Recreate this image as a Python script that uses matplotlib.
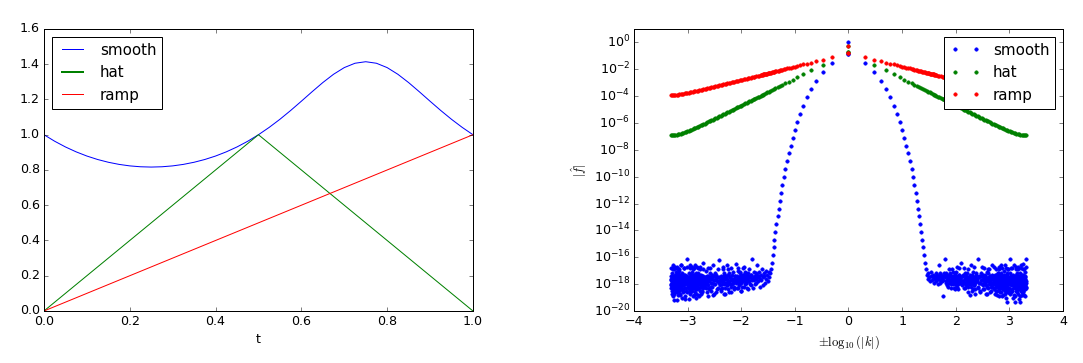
#!/usr/bin/env python3
"""
Test functions on [0, 1] and the magnitude of their Fourier coefficients.

Left: smooth / hat / ramp signals.
Right: |f_hat| against +-log10(|k|) on a log axis.
"""

import numpy as np
import matplotlib
matplotlib.use('Agg')
import matplotlib.pyplot as plt
from matplotlib.ticker import NullLocator

# ---------------------------------------------------------------------------
# Left panel data
# ---------------------------------------------------------------------------
t = np.linspace(0.0, 1.0, 41)
smooth = [1.0, 0.9630, 0.9307, 0.9028, 0.8791, 0.8595, 0.8438, 0.8317, 0.8232, 0.8182,
          0.8165, 0.8182, 0.8232, 0.8317, 0.8438, 0.8595, 0.8791, 0.9028, 0.9307, 0.9630,
          1.0, 1.0416, 1.0875, 1.1374, 1.1901, 1.2438, 1.2959, 1.3429, 1.3808, 1.4055,
          1.4142, 1.4055, 1.3808, 1.3429, 1.2959, 1.2438, 1.1901, 1.1374, 1.0875, 1.0416,
          1.0]
hat_t = [0.0, 0.5, 1.0]
hat = [0.0, 1.0, 0.0]
ramp_t = [0.0, 1.0]
ramp = [0.0, 1.0]

# ---------------------------------------------------------------------------
# Right panel data: log10 |f_hat| per mode k
# ---------------------------------------------------------------------------
smooth_k0 = 1.055
hat_k0 = 0.5
ramp_k0 = 0.5

# smooth: exponential decay for k = 1..28, then round-off noise
k_decay = np.arange(1, 29)
smooth_decay_log10 = [-0.85, -1.55, -2.23, -2.86, -3.48, -4.10, -4.70, -5.30, -5.90, -6.49,
                      -7.09, -7.68, -8.27, -8.86, -9.44, -10.03, -10.61, -11.20, -11.78,
                      -12.37, -12.95, -13.53, -14.11, -14.69, -15.27, -15.85, -16.40, -16.90]

# sampled mode numbers in the noise floor (two interleaved sets)
k_noise = np.r_[29:61, 62:121:2, 124:241:4, 248:481:8, 496:961:8, 976:2049:16]
k_noise2 = np.r_[63:121:2, 126:241:4, 252:481:8, 500:961:8, 984:2049:16]

smooth_noise_pos_log10 = [
    -17.3, -17.6, -17.2, -17.5, -17.8, -17.4, -17.1, -17.7, -17.5, -17.3, -17.9, -17.4, -17.6, -17.2, -17.8,
    -17.5, -17.3, -18.0, -17.6, -16.6, -17.4, -17.7, -17.2, -17.9, -17.5, -17.3, -17.8, -17.6, -18.9, -17.4,
    -17.7, -17.2,
    -16.1, -17.5, -17.8, -17.3, -18.1, -17.6, -17.4, -17.9, -17.2, -18.3, -17.7, -17.5, -16.9, -17.8, -18.0,
    -17.4, -17.6, -18.4, -17.3, -17.7, -17.1, -18.2, -17.5, -17.9, -17.6, -18.0, -17.3, -16.8, -17.8, -17.5,
    -16.4, -17.7, -18.0, -17.4, -17.9, -18.3, -17.6, -17.2, -18.1, -17.8, -17.5, -16.9, -18.2, -17.6, -17.9,
    -18.8, -17.4, -17.7, -18.0, -17.3, -18.5, -17.6, -17.8, -16.7, -18.1, -17.5, -17.9, -18.4, -17.2, -17.7,
    -17.8, -16.1, -18.2, -17.5, -17.9, -18.6, -17.4, -17.7, -18.0, -17.3, -18.4, -17.6, -16.8, -17.9, -18.1,
    -17.5, -18.7, -17.7, -17.2, -18.3, -17.8, -17.6, -16.9, -18.0, -17.4, -18.5, -17.9, -17.6, -18.2, -17.3,
    -17.9, -17.4, -18.3, -17.7, -16.7, -18.0, -17.6, -18.5, -17.8, -17.3, -18.2, -17.5, -18.8, -17.9, -17.2,
    -18.1, -17.6, -16.9, -18.4, -17.7, -17.5, -18.0, -17.8, -18.6, -17.3, -17.9, -16.6, -18.2, -17.6, -18.9,
    -17.4, -17.8, -18.1, -17.5, -18.4, -17.7, -17.0, -18.3, -17.9, -17.6, -18.7, -17.4, -18.0, -17.8, -16.8,
    -18.2, -17.5, -17.9, -18.5, -19.3, -17.7, -18.1, -17.3, -17.8, -18.6, -17.6, -16.9, -18.0, -17.5,
    -17.8, -18.3, -17.5, -16.1, -17.9, -18.6, -17.4, -18.0, -17.7, -18.4, -16.8, -17.6, -18.1, -17.3, -18.8,
    -17.9, -17.5, -18.2, -19.3, -17.7, -18.0, -16.7, -17.6, -18.5, -17.8, -17.2, -18.3, -17.9, -18.7, -17.5,
    -16.9, -18.1, -17.7, -18.4, -17.6, -18.0, -17.4, -18.9, -19.3, -17.8, -18.2, -17.5, -16.6, -18.0, -17.7,
    -18.6, -17.9, -17.3, -18.3, -17.6, -18.1, -16.9, -17.8, -18.5, -17.4, -18.0, -17.7, -18.8, -17.5, -18.2,
    -17.9, -17.1, -18.4, -17.6, -18.0, -17.8, -18.3, -16.1,
]
smooth_noise2_pos_log10 = [
    -17.4, -17.9, -17.2, -17.7, -18.2, -17.5, -16.9, -17.8, -17.3, -17.6, -18.0, -17.4, -17.7, -17.1, -18.3,
    -17.6, -17.5, -17.9, -17.2, -18.1, -17.4, -16.7, -17.8, -17.6, -18.4, -17.3, -17.7, -17.5, -17.9,
    -17.5, -18.1, -17.3, -17.8, -16.8, -17.6, -18.3, -17.4, -17.9, -17.2, -18.6, -17.7, -17.5, -18.0, -17.3,
    -17.8, -16.6, -18.2, -17.6, -17.4, -18.4, -17.9, -17.1, -17.7, -18.1, -17.5, -18.7, -17.3, -17.8,
    -17.6, -18.3, -17.4, -17.9, -18.5, -17.2, -17.7, -16.7, -18.1, -17.5, -17.8, -18.4, -17.3, -17.9, -18.7,
    -17.6, -17.1, -18.2, -17.7, -16.9, -17.5, -18.0, -17.8, -18.6, -17.4, -17.9, -18.2, -16.6, -17.6,
    -18.0, -17.5, -17.8, -18.4, -17.3, -18.7, -17.6, -16.9, -18.1, -17.7, -17.4, -18.5, -17.9, -17.2, -18.2,
    -17.6, -18.9, -17.8, -17.4, -16.7, -18.0, -17.7, -18.3, -17.5, -17.9, -18.6, -17.2, -17.8, -18.1, -16.8,
    -17.6, -18.4, -17.4, -17.9, -18.8, -17.7, -17.3, -18.2, -17.6, -18.0, -16.6, -17.8, -18.5, -17.5, -17.9,
    -18.3, -17.4, -17.7, -19.0, -18.1, -17.6, -17.2, -18.4, -17.8, -16.9, -18.0, -17.5, -18.6,
    -17.6, -18.4, -17.9, -17.2, -18.7, -17.5, -16.8, -18.1, -17.8, -18.5, -17.4, -17.9, -19.0, -17.6, -18.2,
    -16.6, -17.7, -18.3, -17.5, -18.9, -17.8, -17.3, -18.0, -16.9, -17.6, -18.6, -17.9, -18.2, -17.4, -17.7,
    -18.4, -16.7, -17.8, -18.1, -19.1, -17.5, -17.9, -18.3, -17.2, -18.0, -17.7, -16.8, -18.5, -17.6, -17.9,
    -18.8, -17.4, -18.2, -17.7, -16.5, -18.0, -17.6, -18.6, -17.3, -17.9, -18.3, -17.8, -16.9, -18.4, -17.5,
    -18.1, -17.7, -18.9, -17.4, -18.2, -16.7, -17.9,
]

smooth_noise_neg_log10 = [
    -17.2, -17.5, -17.1, -17.8, -17.3, -17.6, -17.0, -17.9, -17.4, -17.2, -18.1, -17.5, -16.9, -17.7, -17.3,
    -17.6, -18.2, -17.4, -17.1, -17.8, -17.5, -16.6, -17.3, -17.9, -17.6, -17.2, -18.0, -17.4, -17.7, -17.1,
    -17.5, -18.3,
    -16.1, -17.6, -17.3, -18.0, -17.5, -17.8, -17.2, -18.4, -17.6, -17.4, -17.9, -17.1, -17.7, -18.2, -17.5,
    -17.3, -16.8, -17.8, -17.6, -18.5, -17.4, -17.9, -17.2, -17.7, -18.1, -17.5, -17.0, -17.8, -18.3, -17.6,
    -16.5, -17.8, -17.4, -18.2, -17.6, -17.9, -17.3, -18.6, -17.7, -17.5, -18.0, -17.2, -17.8, -18.4, -16.9,
    -17.6, -18.1, -17.4, -17.9, -18.7, -17.5, -17.3, -18.0, -17.7, -16.7, -18.3, -17.6, -17.8, -17.4, -18.5,
    -17.7, -16.2, -17.9, -18.3, -17.5, -17.8, -18.6, -17.4, -17.2, -18.0, -17.7, -18.8, -17.6, -17.3, -18.2,
    -17.9, -16.8, -17.5, -18.4, -17.7, -18.1, -17.4, -18.9, -17.8, -17.6, -17.0, -18.3, -17.5, -18.0, -17.7,
    -17.6, -18.1, -16.4, -17.9, -18.5, -17.4, -17.8, -18.2, -17.3, -18.7, -17.7, -17.5, -18.0, -16.9, -18.3,
    -17.6, -17.9, -18.8, -17.2, -17.8, -18.4, -17.5, -16.7, -18.1, -17.7, -19.0, -17.4, -18.2, -17.9, -17.6,
    -18.6, -17.3, -17.8, -18.0, -16.8, -17.5, -18.3, -17.7, -18.9, -17.4, -17.9, -18.1, -17.6, -17.1, -18.5,
    -17.8, -17.3, -18.2, -17.7, -16.6, -18.0, -17.5, -18.7, -17.9, -17.2, -18.4, -17.6, -17.8, -18.1,
    -17.7, -18.2, -17.4, -18.0, -16.1, -17.6, -18.5, -17.9, -17.3, -19.1, -17.8, -18.3, -17.5, -16.8, -18.0,
    -17.7, -18.6, -17.2, -17.9, -18.4, -17.6, -16.6, -18.1, -17.8, -18.8, -17.4, -17.9, -18.3, -17.0, -17.7,
    -18.5, -17.5, -18.0, -16.9, -17.8, -18.2, -19.2, -17.6, -17.3, -18.6, -17.9, -17.1, -18.1, -17.7, -18.4,
    -16.7, -17.5, -18.0, -17.8, -18.7, -17.4, -17.9, -18.2, -17.6, -16.9, -18.9, -17.7, -18.3, -17.5, -18.0,
    -17.2, -18.5, -17.8, -16.8, -17.6, -18.1, -17.4, -18.3,
]
smooth_noise2_neg_log10 = [
    -17.7, -17.3, -18.1, -17.5, -16.9, -17.8, -17.4, -18.3, -17.6, -17.2, -17.9, -18.0, -17.5, -16.7, -17.8,
    -17.3, -18.2, -17.6, -17.4, -17.9, -18.5, -17.1, -17.7, -18.0, -17.5, -16.8, -17.8, -18.3, -17.4,
    -17.9, -17.4, -18.4, -17.6, -17.1, -18.0, -17.7, -16.8, -18.2, -17.5, -17.9, -18.6, -17.3, -17.8, -16.6,
    -18.1, -17.6, -17.4, -18.3, -17.9, -17.2, -18.7, -17.6, -17.8, -16.9, -18.0, -17.5, -18.4, -17.7,
    -18.1, -17.5, -17.8, -16.9, -18.4, -17.6, -17.3, -18.0, -18.7, -17.7, -17.4, -16.6, -18.2, -17.9, -17.5,
    -18.5, -17.6, -17.2, -17.8, -18.3, -16.8, -17.7, -18.0, -17.4, -18.6, -17.9, -17.5, -18.2, -17.6,
    -17.8, -18.3, -17.4, -16.9, -18.0, -17.6, -18.6, -17.5, -17.9, -18.2, -16.7, -17.7, -18.5, -17.3, -17.8,
    -18.9, -17.6, -18.1, -17.4, -16.8, -17.9, -18.3, -17.6, -17.2, -18.7, -17.8, -18.0, -16.6, -17.5, -18.4,
    -17.7, -17.3, -18.2, -17.9, -18.8, -17.6, -16.9, -18.1, -17.5, -17.8, -18.5, -17.4, -17.9, -16.7, -18.2,
    -17.6, -18.0, -17.3, -18.6, -17.8, -17.5, -18.3, -16.8, -17.7, -18.1, -19.1, -17.6, -17.9,
    -18.2, -17.6, -17.9, -18.6, -16.7, -17.8, -18.3, -17.5, -18.9, -17.7, -17.3, -18.1, -16.8, -17.9, -18.5,
    -17.6, -18.0, -17.4, -19.0, -17.8, -16.6, -18.2, -17.7, -18.4, -17.5, -17.9, -18.7, -17.3, -16.9, -18.0,
    -17.6, -18.3, -17.8, -17.2, -18.8, -17.7, -16.7, -18.1, -17.5, -18.5, -17.9, -17.4, -18.2, -16.8, -17.7,
    -18.6, -17.6, -18.0, -17.3, -19.2, -17.8, -16.9, -18.4, -17.5, -17.9, -18.1, -17.7, -16.6, -18.3, -17.6,
    -18.7, -17.4, -17.9, -18.2, -16.8, -17.7, -18.0,
]

# ramp (all k) and hat (odd k only)
k_high = [11, 13, 15, 17, 19, 21, 23, 25, 27, 29, 31, 33, 35, 37, 39, 41, 43, 47, 49, 53,
          57, 59, 63, 67, 71, 75, 79, 85, 89, 95, 101, 107, 113, 119, 127, 135, 143, 151, 161, 171,
          181, 191, 203, 215, 227, 241, 255, 271, 287, 303, 321, 341, 361, 381, 405, 431, 455, 481,
          511, 541, 573, 605, 643, 681, 721, 761, 805, 851, 903, 955, 1011, 1071, 1135, 1201, 1275,
          1351, 1431, 1515, 1605, 1701, 1801, 1909, 1979, 2047]
k_ramp_even = [12, 14, 16, 18, 20, 22, 24, 26, 28, 30, 32, 34, 36, 38, 40, 42]
k_ramp = list(range(1, 11)) + k_high + k_ramp_even
k_hat = [1, 3, 5, 7, 9] + k_high

ramp_log10 = [-0.80, -1.10, -1.28, -1.40, -1.50, -1.58, -1.64, -1.70, -1.75, -1.80,
              # odd k >= 11
              -1.84, -1.91, -1.97, -2.03, -2.08, -2.12, -2.16, -2.20, -2.23, -2.26,
              -2.29, -2.32, -2.34, -2.37, -2.39, -2.41, -2.43, -2.47, -2.49, -2.52,
              -2.55, -2.57, -2.60, -2.62, -2.65, -2.67, -2.70, -2.73, -2.75, -2.78,
              -2.80, -2.83, -2.85, -2.87, -2.90, -2.93, -2.95, -2.98, -3.00, -3.03,
              -3.05, -3.08, -3.10, -3.13, -3.15, -3.18, -3.20, -3.23, -3.25, -3.28,
              -3.30, -3.33, -3.35, -3.37, -3.40, -3.42, -3.45, -3.47, -3.50, -3.52,
              -3.54, -3.56, -3.59, -3.61, -3.63, -3.65, -3.68, -3.70, -3.72, -3.74,
              -3.76, -3.78, -3.80, -3.81, -3.83, -3.85, -3.86, -3.88, -3.89, -3.90,
              -3.91, -3.91, -3.91, -3.91,
              # even k 12..42
              -1.88, -1.94, -2.00, -2.05, -2.10, -2.14, -2.18, -2.21, -2.25, -2.28,
              -2.30, -2.33, -2.35, -2.38, -2.40, -2.42]
hat_log10 = [-0.69, -1.65, -2.09, -2.38, -2.60,
             -2.78, -2.92, -3.05, -3.15, -3.25, -3.34, -3.42, -3.49, -3.56, -3.62,
             -3.68, -3.73, -3.78, -3.83, -3.88, -3.92, -3.96, -4.04, -4.07, -4.14,
             -4.21, -4.24, -4.29, -4.35, -4.40, -4.44, -4.49, -4.55, -4.59, -4.65,
             -4.70, -4.75, -4.80, -4.84, -4.90, -4.95, -5.00, -5.05, -5.10, -5.16,
             -5.21, -5.25, -5.30, -5.35, -5.40, -5.45, -5.50, -5.55, -5.60, -5.65,
             -5.70, -5.75, -5.80, -5.84, -5.89, -5.95, -5.99, -6.04, -6.09, -6.13,
             -6.18, -6.23, -6.27, -6.32, -6.36, -6.41, -6.45, -6.49, -6.53, -6.57,
             -6.61, -6.65, -6.69, -6.73, -6.76, -6.79, -6.82, -6.85, -6.87, -6.89,
             -6.91, -6.92, -6.92, -6.92]

assert len(smooth_noise_pos_log10) == len(k_noise) == len(smooth_noise_neg_log10)
assert len(smooth_noise2_pos_log10) == len(k_noise2) == len(smooth_noise2_neg_log10)
assert len(ramp_log10) == len(k_ramp) and len(hat_log10) == len(k_hat)


def spectrum_xy(k0_value, k_pos, pos_log10, k_neg, neg_log10):
    """Mode 0 at x=0, +k at log10(k), -k at -log10(k)."""
    x = np.concatenate([[0.0], -np.log10(k_neg), np.log10(k_pos)])
    y = np.concatenate([[k0_value], 10.0 ** np.asarray(neg_log10), 10.0 ** np.asarray(pos_log10)])
    return x, y


def main():
    plt.style.use('classic')
    plt.rcParams['font.size'] = 12.6
    plt.rcParams['lines.markersize'] = 7

    fig = plt.figure(figsize=(1083 / 72, 363 / 72), dpi=72, facecolor='white')
    ax1 = fig.add_axes([0.0406, 0.1433, 0.3961, 0.7769])
    ax2 = fig.add_axes([0.5854, 0.1433, 0.3961, 0.7769])

    # left: signals
    ax1.plot(t, smooth, 'b-', label='smooth')
    ax1.plot(hat_t, hat, 'g-', label='hat')
    ax1.plot(ramp_t, ramp, 'r-', label='ramp')
    ax1.set_xlim(0, 1)
    ax1.set_ylim(0, 1.6)
    ax1.set_xticks(np.arange(0, 1.01, 0.2))
    ax1.set_yticks(np.arange(0, 1.61, 0.2))
    ax1.set_xlabel('t')
    leg1 = ax1.legend(loc='upper left')
    leg1.get_lines()[1].set_linewidth(2)

    # right: spectra
    k_smooth = np.concatenate([k_decay, k_noise, k_noise2])
    x, y = spectrum_xy(smooth_k0,
                       k_smooth, smooth_decay_log10 + smooth_noise_pos_log10 + smooth_noise2_pos_log10,
                       k_smooth, smooth_decay_log10 + smooth_noise_neg_log10 + smooth_noise2_neg_log10)
    ax2.semilogy(x, y, 'b.', label='smooth')
    x, y = spectrum_xy(hat_k0, k_hat, hat_log10, k_hat, hat_log10)
    ax2.semilogy(x, y, 'g.', label='hat')
    x, y = spectrum_xy(ramp_k0, k_ramp, ramp_log10, k_ramp, ramp_log10)
    ax2.semilogy(x, y, 'r.', label='ramp')

    ax2.set_xlim(-4, 4)
    ax2.set_ylim(1e-20, 1e1)
    ax2.set_yticks(10.0 ** np.arange(-20, 1, 2))
    ax2.yaxis.set_minor_locator(NullLocator())
    ax2.set_xlabel(r'$\pm\log_{10}(|k|)$')
    ax2.set_ylabel(r'$|\hat{f}|$')
    ax2.legend(loc='upper right')

    fig.savefig('out.png', dpi=72, facecolor='white')
    plt.close(fig)


if __name__ == '__main__':
    main()
